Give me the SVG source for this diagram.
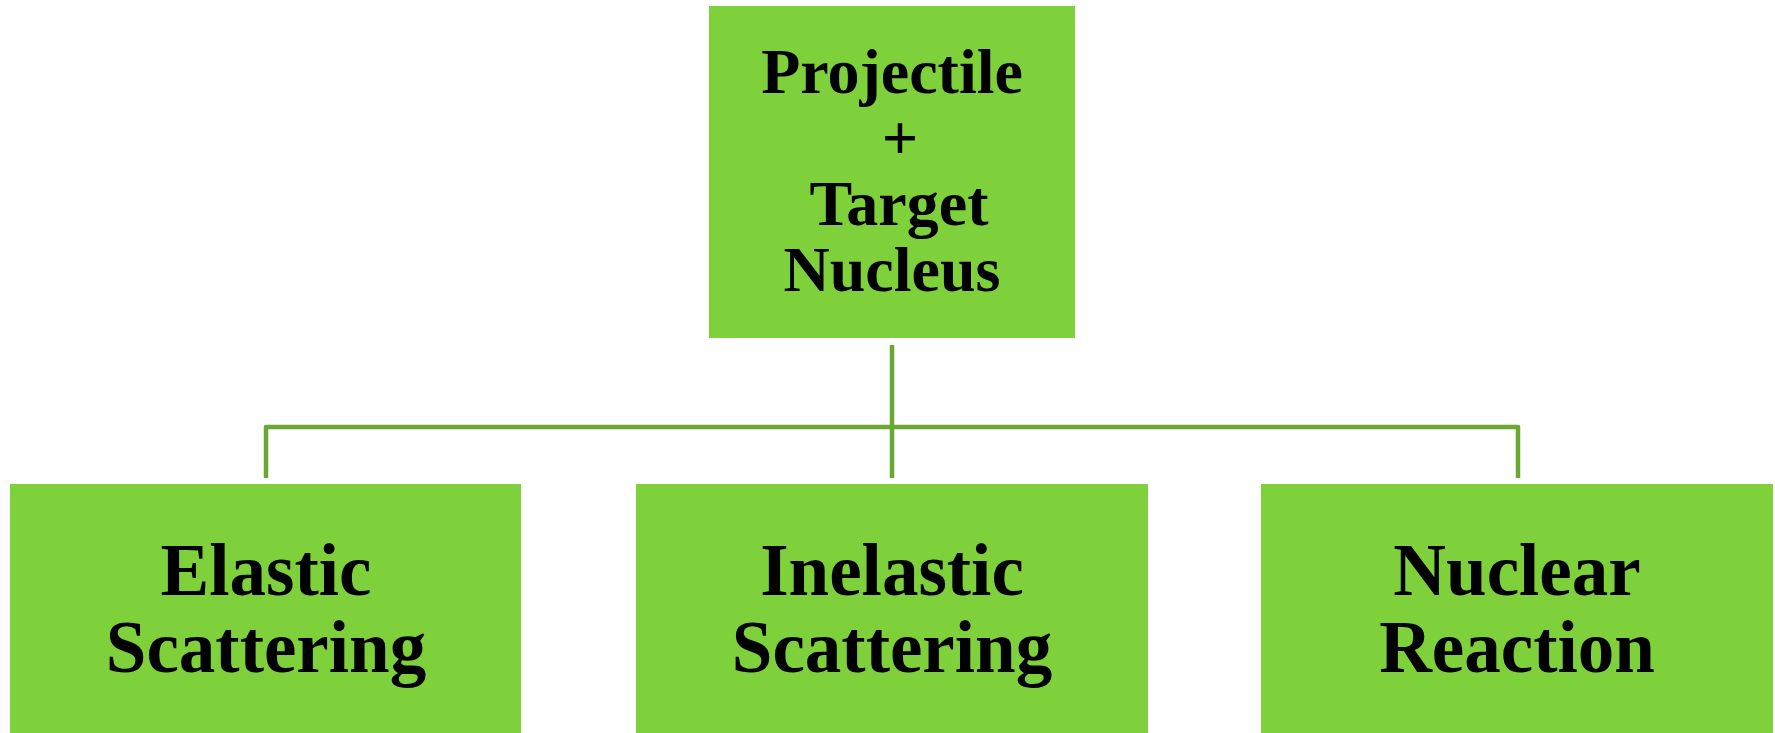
<svg xmlns="http://www.w3.org/2000/svg" width="1775" height="733" viewBox="0 0 1775 733">
<style>
.box{fill:#7fd13b;}
.lbl{font-family:"Liberation Serif","Times New Roman",serif;font-weight:bold;fill:#000;text-anchor:middle;}
.top{font-size:64px;}
.bot{font-size:73px;}
.conn{fill:none;stroke:#6aa733;stroke-width:4.5;stroke-linejoin:round;}
</style>
<rect width="1775" height="733" fill="#ffffff"/>
<g id="connectors">
<path class="conn" d="M892,345 V478"/>
<path class="conn" d="M266,478 V427 H1518 V478"/>
</g>
<g id="node-top">
<rect class="box" x="709" y="6" width="366" height="332"/>
<text class="lbl top" x="892" y="93">Projectile</text>
<text class="lbl top" x="900" y="159">+</text>
<text class="lbl top" x="899" y="225">Target</text>
<text class="lbl top" x="892" y="291">Nucleus</text>
</g>
<g id="node-elastic">
<rect class="box" x="10" y="484" width="511" height="249"/>
<text class="lbl bot" x="266" y="595">Elastic</text>
<text class="lbl bot" x="266" y="672">Scattering</text>
</g>
<g id="node-inelastic">
<rect class="box" x="636" y="484" width="512" height="249"/>
<text class="lbl bot" x="892" y="595">Inelastic</text>
<text class="lbl bot" x="892" y="672">Scattering</text>
</g>
<g id="node-nuclear">
<rect class="box" x="1261" y="484" width="512" height="249"/>
<text class="lbl bot" x="1517" y="595">Nuclear</text>
<text class="lbl bot" x="1517" y="672">Reaction</text>
</g>
</svg>
